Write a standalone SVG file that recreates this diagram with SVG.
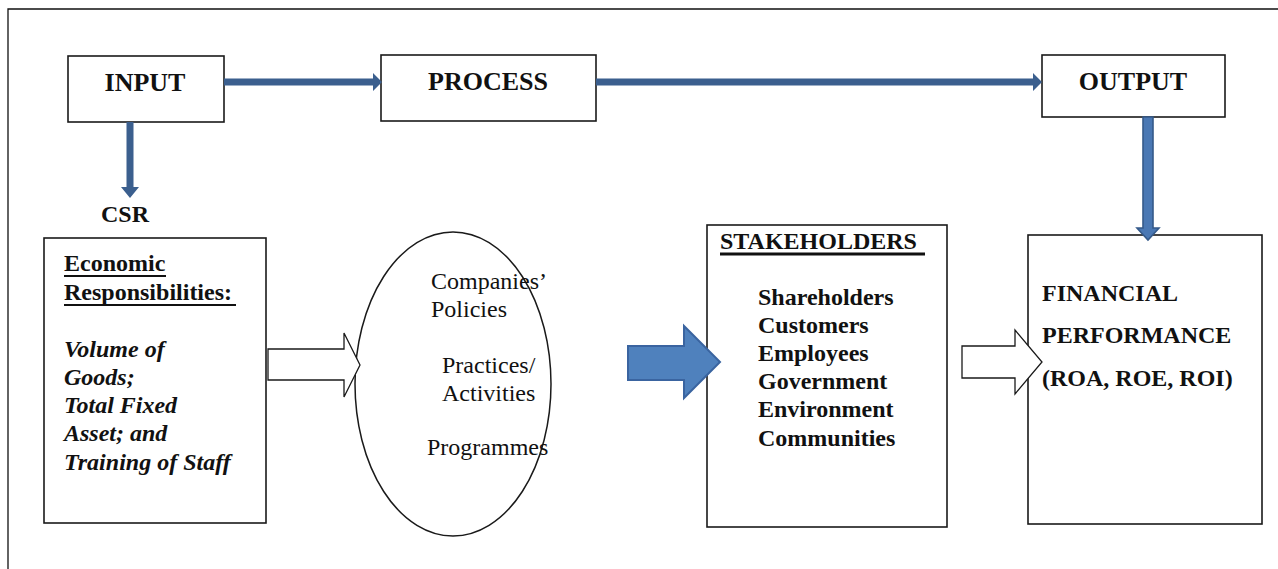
<svg xmlns="http://www.w3.org/2000/svg" width="1278" height="569" viewBox="0 0 1278 569">
  <style>
    .box { fill: #ffffff; stroke: #1a1a1a; stroke-width: 1.6; }
    .t { font-family: "Liberation Serif", "Times New Roman", serif; fill: #111111; }
    .b { font-weight: bold; }
    .head { font-size: 26px; font-weight: bold; text-anchor: middle; }
    .lbl { font-size: 24px; }
    .bar { fill: #3b5f8e; }
    .hollow { fill: #ffffff; stroke: #1a1a1a; stroke-width: 1.3; stroke-linejoin: miter; }
    .ul { stroke: #111111; stroke-width: 2; }
  </style>
  <defs>
    <clipPath id="csrClip">
      <rect x="90" y="205" width="80" height="20"/>
    </clipPath>
  </defs>

  <!-- page frame -->
  <path d="M8 569 V9 H1278" fill="none" stroke="#111111" stroke-width="1.3"/>

  <!-- nodes -->
  <g id="input">
    <rect class="box" x="68" y="56" width="156" height="66"/>
    <text class="t head" x="145" y="91">INPUT</text>
  </g>
  <g id="process">
    <rect class="box" x="381" y="55" width="215" height="66"/>
    <text class="t head" x="488" y="90">PROCESS</text>
  </g>
  <g id="output">
    <rect class="box" x="1042" y="55" width="183" height="62"/>
    <text class="t head" x="1133" y="90">OUTPUT</text>
  </g>
  <g id="csr">
    <text class="t b lbl" x="125" y="222" text-anchor="middle" clip-path="url(#csrClip)">CSR</text>
  </g>
  <g id="economic">
    <rect class="box" x="44" y="238" width="222" height="285"/>
    <text class="t b lbl" x="64" y="271">Economic</text>
    <line class="ul" x1="64" y1="276" x2="166" y2="276"/>
    <text class="t b lbl" x="64" y="300">Responsibilities:</text>
    <line class="ul" x1="64" y1="305" x2="236" y2="305"/>
    <g font-style="italic">
      <text class="t b lbl" x="64" y="357">Volume of</text>
      <text class="t b lbl" x="64" y="385">Goods;</text>
      <text class="t b lbl" x="64" y="413">Total Fixed</text>
      <text class="t b lbl" x="64" y="441">Asset; and</text>
      <text class="t b lbl" x="64" y="470">Training of Staff</text>
    </g>
  </g>
  <g id="activities">
    <ellipse cx="453" cy="384" rx="98" ry="152" fill="#ffffff" stroke="#1a1a1a" stroke-width="1.5"/>
    <text class="t lbl" x="431" y="289">Companies’</text>
    <text class="t lbl" x="431" y="317">Policies</text>
    <text class="t lbl" x="442" y="373">Practices/</text>
    <text class="t lbl" x="442" y="401">Activities</text>
    <text class="t lbl" x="427" y="455">Programmes</text>
  </g>
  <g id="stakeholders">
    <rect class="box" x="707" y="225" width="240" height="302"/>
    <text class="t b lbl" x="720" y="249">STAKEHOLDERS</text>
    <line x1="720" y1="254" x2="925" y2="254" stroke="#111111" stroke-width="3"/>
    <text class="t b lbl" x="758" y="305">Shareholders</text>
    <text class="t b lbl" x="758" y="333">Customers</text>
    <text class="t b lbl" x="758" y="361">Employees</text>
    <text class="t b lbl" x="758" y="389">Government</text>
    <text class="t b lbl" x="758" y="417">Environment</text>
    <text class="t b lbl" x="758" y="446">Communities</text>
  </g>
  <g id="financial">
    <rect class="box" x="1028" y="235" width="234" height="289"/>
    <text class="t b lbl" x="1042" y="301">FINANCIAL</text>
    <text class="t b lbl" x="1042" y="343">PERFORMANCE</text>
    <text class="t b lbl" x="1042" y="386">(ROA, ROE, ROI)</text>
  </g>

  <!-- connectors -->
  <g id="connectors">
    <!-- INPUT to PROCESS -->
    <path class="bar" d="M224 78.5 H373 V73 L382 82 L373 91 V85.5 H224 Z"/>
    <!-- PROCESS to OUTPUT -->
    <path class="bar" d="M596 78.5 H1033 V73 L1042 82 L1033 91 V85.5 H596 Z"/>
    <!-- INPUT down to CSR -->
    <path class="bar" d="M126.5 122 V187 H121 L130 198 L139 187 H133.5 V122 Z"/>
    <!-- OUTPUT down to financial performance -->
    <path d="M1143 117 V228 H1137 L1148 240 L1159 228 H1153 V117 Z" fill="#4a78b4" stroke="#355a8a" stroke-width="1.6"/>
    <!-- economic responsibilities to activities -->
    <path class="hollow" d="M268 349 H344 V333 L360 365 L344 397 V380 H268 Z"/>
    <!-- activities to stakeholders -->
    <path d="M628 346 H684 V326 L720 362 L684 398 V380 H628 Z" fill="#4f81bd" stroke="#3a64a0" stroke-width="2"/>
    <!-- stakeholders to financial performance -->
    <path class="hollow" d="M962 346 H1015 V330 L1042 362 L1015 394 V378 H962 Z"/>
  </g>
</svg>
